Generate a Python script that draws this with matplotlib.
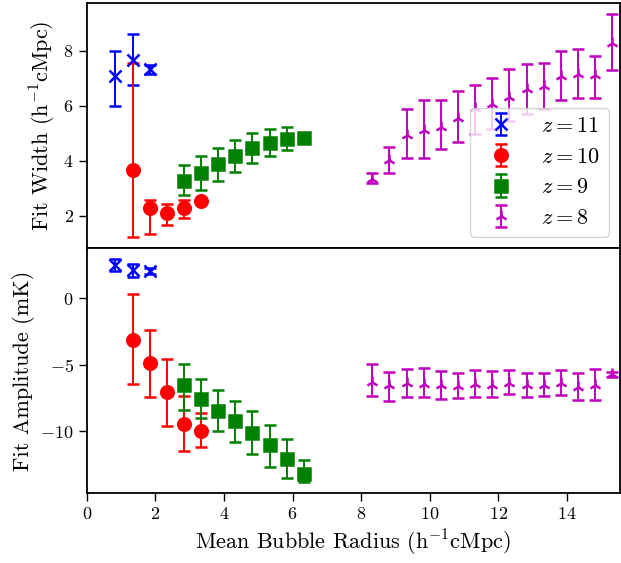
"""
Fit width and amplitude versus mean bubble radius
"""
import numpy as np
import matplotlib
matplotlib.use('Agg')
import matplotlib.pyplot as plt

plt.rcParams['font.family'] = 'serif'
plt.rcParams['font.serif'] = ['cmr10']
plt.rcParams['mathtext.fontset'] = 'cm'
plt.rcParams['axes.formatter.use_mathtext'] = True

# x positions (mean bubble radius)
x_z11 = [0.83, 1.33, 1.83]
x_z10 = [1.33, 1.83, 2.33, 2.83, 3.33]
x_z9 = [2.83, 3.33, 3.83, 4.33, 4.83, 5.33, 5.83, 6.33]
x_z8 = [8.33, 8.83, 9.33, 9.83, 10.33, 10.83, 11.33, 11.83,
        12.33, 12.83, 13.33, 13.83, 14.33, 14.83, 15.33]

# fit width: value, lower bound, upper bound
w_z11 = [7.10, 7.68, 7.33]
w_z11_lo = [6.00, 6.75, 7.17]
w_z11_hi = [8.00, 8.60, 7.50]

w_z10 = [3.66, 2.30, 2.10, 2.28, 2.53]
w_z10_lo = [1.24, 1.36, 1.66, 1.93, 2.48]
w_z10_hi = [7.57, 2.58, 2.45, 2.57, 2.58]

w_z9 = [3.27, 3.56, 3.88, 4.18, 4.47, 4.64, 4.81, 4.84]
w_z9_lo = [2.75, 2.95, 3.27, 3.61, 3.92, 4.17, 4.39, 4.80]
w_z9_hi = [3.85, 4.19, 4.47, 4.77, 5.00, 5.17, 5.24, 4.88]

w_z8 = [3.35, 4.03, 4.95, 5.12, 5.24, 5.55, 5.94, 6.06,
        6.33, 6.60, 6.73, 7.09, 7.17, 7.13, 8.28]
w_z8_lo = [3.21, 3.56, 4.10, 4.10, 4.45, 4.67, 4.97, 5.15,
           5.45, 5.70, 5.88, 6.20, 6.30, 6.27, 7.30]
w_z8_hi = [3.56, 4.51, 5.87, 6.22, 6.21, 6.55, 6.76, 7.02,
           7.33, 7.52, 7.55, 8.00, 8.06, 7.82, 9.34]

# fit amplitude: value, lower bound, upper bound
a_z11 = [2.50, 2.08, 2.03]
a_z11_lo = [2.05, 1.60, 1.83]
a_z11_hi = [2.93, 2.56, 2.23]

a_z10 = [-3.16, -4.86, -7.07, -9.42, -9.97]
a_z10_lo = [-6.41, -7.42, -9.62, -11.48, -11.20]
a_z10_hi = [0.35, -2.41, -4.56, -7.34, -8.62]

a_z9 = [-6.54, -7.54, -8.45, -9.25, -10.13, -11.05, -12.06, -13.18]
a_z9_lo = [-8.37, -9.00, -10.00, -10.78, -11.70, -12.66, -13.46, -13.80]
a_z9_hi = [-4.91, -6.04, -6.92, -7.72, -8.50, -9.50, -10.60, -12.13]

a_z8 = [-6.29, -6.49, -6.37, -6.47, -6.54, -6.59, -6.47, -6.49,
        -6.37, -6.54, -6.49, -6.34, -6.67, -6.54, -5.71]
a_z8_lo = [-7.37, -7.74, -7.42, -7.42, -7.59, -7.52, -7.42, -7.42,
           -7.22, -7.42, -7.34, -7.27, -7.62, -7.67, -5.90]
a_z8_hi = [-4.96, -5.56, -5.34, -5.26, -5.49, -5.62, -5.41, -5.49,
           -5.41, -5.62, -5.59, -5.36, -5.62, -5.31, -5.52]

labels = ['$z=11$', '$z=10$', '$z=9$', '$z=8$']
colors = ['b', 'r', 'g', 'm']
markers = ['x', 'o', 's', '2']

xs = [x_z11, x_z10, x_z9, x_z8]
widths = [(w_z11, w_z11_lo, w_z11_hi), (w_z10, w_z10_lo, w_z10_hi),
          (w_z9, w_z9_lo, w_z9_hi), (w_z8, w_z8_lo, w_z8_hi)]
amps = [(a_z11, a_z11_lo, a_z11_hi), (a_z10, a_z10_lo, a_z10_hi),
        (a_z9, a_z9_lo, a_z9_hi), (a_z8, a_z8_lo, a_z8_hi)]


def errs(v, lo, hi):
    v, lo, hi = np.array(v), np.array(lo), np.array(hi)
    return [v - lo, hi - v]


fig, (ax1, ax2) = plt.subplots(2, 1, sharex=True, figsize=(6.21, 5.63), dpi=100)
fig.subplots_adjust(left=0.14, right=0.998, top=0.995, bottom=0.124, hspace=0)

for x, (v, lo, hi), c, m, lab in zip(xs, widths, colors, markers, labels):
    ax1.errorbar(x, v, yerr=errs(v, lo, hi), fmt=m, color=c, ms=9, mew=1.8,
                 capsize=4.5, elinewidth=1.4, capthick=1.4, label=lab)

for x, (v, lo, hi), c, m in zip(xs, amps, colors, markers):
    ax2.errorbar(x, v, yerr=errs(v, lo, hi), fmt=m, color=c, ms=9, mew=1.8,
                 capsize=4.5, elinewidth=1.4, capthick=1.4)

ax1.set_xlim(0, 15.55)
ax1.tick_params(axis='x', bottom=False)
for ax in (ax1, ax2):
    ax.tick_params(labelsize=13, length=6, width=1)
    for s in ax.spines.values():
        s.set_linewidth(1.3)

ax1.set_ylabel('Fit Width (h$^{-1}$cMpc)', fontsize=16)
ax2.set_ylabel('Fit Amplitude (mK)', fontsize=16)
ax2.set_xlabel('Mean Bubble Radius (h$^{-1}$cMpc)', fontsize=16)
ax1.legend(loc='lower right', fontsize=16)

fig.savefig('out.png', dpi=100)
